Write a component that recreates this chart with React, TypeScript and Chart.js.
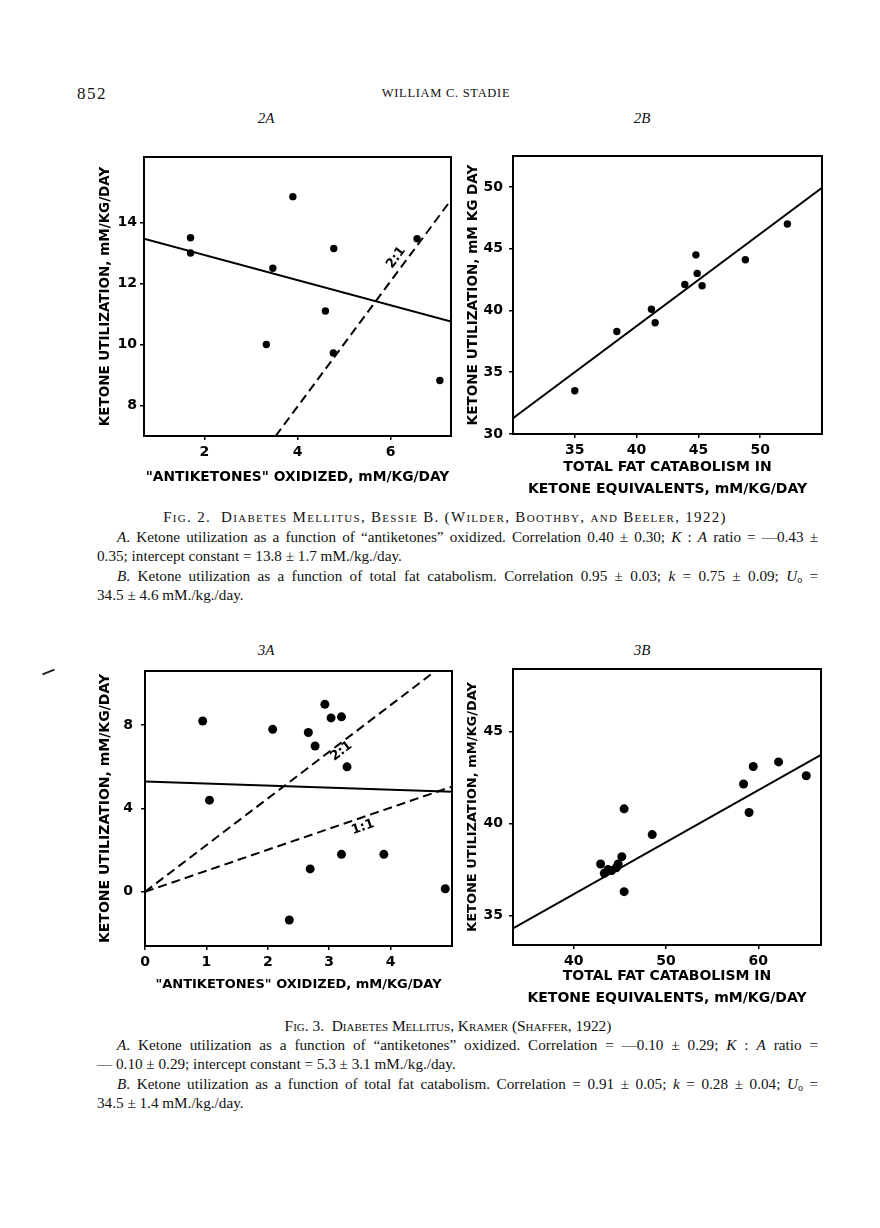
import React, { useEffect, useRef } from "react";
import { Chart, registerables } from "chart.js";

Chart.register(...registerables);

// ---------- Fig. 2A : Bessie B. ----------
const fig2aAntiketones = [1.7, 1.7, 3.9, 3.47, 4.78, 4.6, 3.33, 4.77, 6.57, 7.06];
const fig2aUtilization = [13.5, 13.0, 14.85, 12.5, 13.15, 11.1, 10.0, 9.72, 13.47, 8.82];
const fig2aFitX = [0.7, 7.3];
const fig2aFitY = [13.47, 10.75];
const fig2aRatio21X = [3.53, 7.3];
const fig2aRatio21Y = [7.0, 14.74];
const fig2aXTicks = [2, 4, 6];
const fig2aYTicks = [8, 10, 12, 14];

// ---------- Fig. 2B : Bessie B. ----------
const fig2bFatCatabolism = [35.0, 38.4, 41.2, 41.5, 43.9, 44.8, 44.9, 45.3, 48.8, 52.2];
const fig2bUtilization = [33.5, 38.3, 40.1, 39.0, 42.1, 44.5, 43.0, 42.0, 44.1, 47.0];
const fig2bFitX = [30, 55];
const fig2bFitY = [31.27, 49.92];
const fig2bXTicks = [35, 40, 45, 50];
const fig2bYTicks = [30, 35, 40, 45, 50];

// ---------- Fig. 3A : Kramer ----------
const fig3aAntiketones = [0.94, 1.05, 2.08, 2.66, 2.77, 2.93, 3.03, 3.2, 3.29, 3.2, 3.89, 2.69, 2.35, 4.89];
const fig3aUtilization = [8.2, 4.4, 7.8, 7.65, 7.0, 9.0, 8.35, 8.4, 6.0, 1.8, 1.8, 1.1, -1.35, 0.15];
const fig3aFitX = [0, 5];
const fig3aFitY = [5.3, 4.8];
const fig3aRatio21X = [0, 4.73];
const fig3aRatio21Y = [0, 10.6];
const fig3aRatio11X = [0, 5];
const fig3aRatio11Y = [0, 5.05];
const fig3aXTicks = [0, 1, 2, 3, 4];
const fig3aYTicks = [0, 4, 8];

// ---------- Fig. 3B : Kramer ----------
const fig3bFatCatabolism = [42.9, 43.3, 43.7, 44.1, 44.6, 44.8, 45.2, 45.45, 45.45, 48.5, 58.4, 59.0, 59.45, 62.2, 65.2];
const fig3bUtilization = [37.8, 37.3, 37.5, 37.45, 37.6, 37.8, 38.2, 40.8, 36.3, 39.4, 42.15, 40.6, 43.1, 43.35, 42.6];
const fig3bFitX = [33.4, 66.8];
const fig3bFitY = [34.3, 43.73];
const fig3bXTicks = [40, 50, 60];
const fig3bYTicks = [35, 40, 45];

const SANS = '"DejaVu Sans", "Liberation Sans", sans-serif';
const SERIF = '"Liberation Serif", "DejaVu Serif", serif';

type LineSpec = { xs: number[]; ys: number[]; dashed: boolean };
type LabelSpec = { x: number; y: number; text: string; line: number };

type PanelProps = {
  left: number;
  top: number;
  width: number;
  height: number;
  padTop: number;
  padRight: number;
  yAxisWidth: number;
  xAxisHeight: number;
  xMin: number;
  xMax: number;
  yMin: number;
  yMax: number;
  xTicks: number[];
  yTicks: number[];
  xs: number[];
  ys: number[];
  radius: number;
  lines: LineSpec[];
  labels: LabelSpec[];
  xTitle: string | string[];
  yTitle: string;
  xTitleSize: number;
  yTitleSize: number;
  xTitleLineHeight: number;
  xTitlePad: number;
  yTitlePad: number;
  xTickPad: number;
  yTickPad: number;
};

function Panel(p: PanelProps) {
  const ref = useRef<HTMLCanvasElement | null>(null);
  useEffect(() => {
    if (!ref.current) return;
    const framePlugin = {
      id: "frame",
      afterDraw(chart: any) {
        const { ctx, chartArea } = chart;
        ctx.save();
        ctx.strokeStyle = "#000";
        ctx.lineWidth = 2;
        ctx.strokeRect(chartArea.left, chartArea.top, chartArea.right - chartArea.left, chartArea.bottom - chartArea.top);
        ctx.restore();
      },
    };
    const labelPlugin = {
      id: "ratioLabels",
      afterDatasetsDraw(chart: any) {
        const { ctx } = chart;
        const sx = chart.scales.x;
        const sy = chart.scales.y;
        p.labels.forEach((l) => {
          const ln = p.lines[l.line];
          const x1 = sx.getPixelForValue(ln.xs[0]);
          const y1 = sy.getPixelForValue(ln.ys[0]);
          const x2 = sx.getPixelForValue(ln.xs[1]);
          const y2 = sy.getPixelForValue(ln.ys[1]);
          const ang = Math.atan2(y2 - y1, x2 - x1);
          ctx.save();
          ctx.translate(sx.getPixelForValue(l.x), sy.getPixelForValue(l.y));
          ctx.rotate(ang);
          ctx.font = `bold 13px ${SANS}`;
          ctx.fillStyle = "#000";
          ctx.textAlign = "center";
          ctx.textBaseline = "middle";
          ctx.fillText(l.text, 0, 0);
          ctx.restore();
        });
      },
    };
    const tickFont = { family: SANS, size: 14, weight: "bold" as const };
    const chart = new Chart(ref.current, {
      type: "scatter",
      data: {
        datasets: [
          ...p.lines.map((l) => ({
            type: "line" as const,
            data: l.xs.map((x, i) => ({ x, y: l.ys[i] })),
            borderColor: "#000",
            borderWidth: l.dashed ? 2 : 2,
            borderDash: l.dashed ? [9, 5] : [],
            pointRadius: 0,
            fill: false,
            tension: 0,
          })),
          {
            type: "scatter" as const,
            data: p.xs.map((x, i) => ({ x, y: p.ys[i] })),
            backgroundColor: "#000",
            borderColor: "#000",
            borderWidth: 0,
            pointRadius: p.radius,
            pointHoverRadius: p.radius,
          },
        ],
      } as any,
      options: {
        animation: false,
        responsive: false,
        maintainAspectRatio: false,
        events: [],
        layout: { padding: { top: p.padTop, right: p.padRight, left: 0, bottom: 0 }, autoPadding: false } as any,
        plugins: { legend: { display: false }, tooltip: { enabled: false } },
        scales: {
          x: {
            type: "linear",
            position: "bottom",
            min: p.xMin,
            max: p.xMax,
            afterFit: (s: any) => {
              s.height = p.xAxisHeight;
              s.paddingLeft = 0;
              s.paddingRight = 0;
              s.paddingTop = 0;
              s.paddingBottom = 0;
            },
            afterBuildTicks: (s: any) => {
              s.ticks = p.xTicks.map((v) => ({ value: v }));
            },
            ticks: { font: tickFont, color: "#000", padding: p.xTickPad, maxRotation: 0, autoSkip: false, callback: (v: any) => String(v) },
            grid: { drawOnChartArea: false, drawTicks: true, tickLength: 4, color: "#000", lineWidth: 1.5 },
            border: { display: true, color: "#000", width: 2 },
            title: {
              display: true,
              text: p.xTitle,
              color: "#000",
              font: { family: SANS, size: p.xTitleSize, weight: "bold", lineHeight: `${p.xTitleLineHeight}px` },
              padding: { top: 0, bottom: p.xTitlePad },
            },
          },
          y: {
            type: "linear",
            position: "left",
            min: p.yMin,
            max: p.yMax,
            afterFit: (s: any) => {
              s.width = p.yAxisWidth;
              s.paddingLeft = 0;
              s.paddingRight = 0;
              s.paddingTop = 0;
              s.paddingBottom = 0;
            },
            afterBuildTicks: (s: any) => {
              s.ticks = p.yTicks.map((v) => ({ value: v }));
            },
            ticks: { font: tickFont, color: "#000", padding: p.yTickPad, autoSkip: false, callback: (v: any) => String(v) },
            grid: { drawOnChartArea: false, drawTicks: true, tickLength: 4, color: "#000", lineWidth: 1.5 },
            border: { display: true, color: "#000", width: 2 },
            title: {
              display: true,
              text: p.yTitle,
              color: "#000",
              font: { family: SANS, size: p.yTitleSize, weight: "bold" },
              padding: { top: p.yTitlePad, bottom: 0 },
            },
          },
        },
      } as any,
      plugins: [framePlugin, labelPlugin],
    });
    return () => chart.destroy();
  }, []);
  return (
    <canvas
      ref={ref}
      width={p.width}
      height={p.height}
      style={{ position: "absolute", left: p.left, top: p.top, width: p.width, height: p.height }}
    />
  );
}

function Txt(props: { x: number; y: number; w?: number; size: number; style?: React.CSSProperties; children: React.ReactNode; center?: boolean }) {
  const lh = Math.round(props.size * 1.35);
  return (
    <div
      style={{
        position: "absolute",
        left: props.center ? props.x - (props.w || 600) / 2 : props.x,
        top: props.y - lh / 2,
        width: props.w || 600,
        lineHeight: `${lh}px`,
        height: lh,
        fontSize: props.size,
        fontFamily: SERIF,
        color: "#111",
        textAlign: props.center ? "center" : "left",
        whiteSpace: "nowrap",
        ...props.style,
      }}
    >
      {props.children}
    </div>
  );
}

function JLine(props: { y: number; indent?: boolean; full?: boolean; children: React.ReactNode }) {
  const left = props.indent ? 117 : 97;
  return (
    <div
      style={{
        position: "absolute",
        left,
        top: props.y - 10,
        width: 818 - left,
        height: 20,
        lineHeight: "20px",
        fontSize: 15.2,
        fontFamily: SERIF,
        color: "#111",
        textAlign: props.full ? "justify" : "left",
        textAlignLast: props.full ? "justify" : "left",
        overflow: "visible",
      }}
    >
      {props.children}
    </div>
  );
}

const Sub = (p: { children: React.ReactNode }) => (
  <span style={{ fontSize: "0.65em", position: "relative", top: "0.25em" }}>{p.children}</span>
);

export default function App() {
  const xTitleA = '"ANTIKETONES" OXIDIZED, mM/KG/DAY';
  const xTitleB = ["TOTAL FAT CATABOLISM IN", "KETONE EQUIVALENTS, mM/KG/DAY"];
  return (
    <div style={{ position: "absolute", left: 0, top: 0, width: 880, height: 1228, background: "#fff", overflow: "hidden" }}>
      <Txt x={77} y={93} size={17} w={60} style={{ letterSpacing: "1.5px" }}>852</Txt>
      <Txt x={446} y={93} size={12.5} w={300} center style={{ letterSpacing: "0.7px" }}>WILLIAM C. STADIE</Txt>
      <Txt x={266} y={118} size={15} w={60} center style={{ fontStyle: "italic" }}>2A</Txt>
      <Txt x={642} y={118} size={15} w={60} center style={{ fontStyle: "italic" }}>2B</Txt>

      <div style={{ position: "absolute", left: 42, top: 671, width: 13, height: 2, background: "#222", transform: "rotate(-22deg)" }} />

      <Panel
        left={88} top={148} width={372} height={350} padTop={9} padRight={9} yAxisWidth={56} xAxisHeight={62}
        xMin={0.7} xMax={7.3} yMin={7.0} yMax={16.15} xTicks={fig2aXTicks} yTicks={fig2aYTicks}
        xs={fig2aAntiketones} ys={fig2aUtilization} radius={3.7}
        lines={[
          { xs: fig2aFitX, ys: fig2aFitY, dashed: false },
          { xs: fig2aRatio21X, ys: fig2aRatio21Y, dashed: true },
        ]}
        labels={[{ x: 6.12, y: 12.85, text: "2:1", line: 1 }]}
        xTitle={xTitleA} yTitle="KETONE UTILIZATION, mM/KG/DAY"
        xTitleSize={13.8} yTitleSize={13.5} xTitleLineHeight={16} xTitlePad={13} yTitlePad={9}
        xTickPad={4} yTickPad={3}
      />
      <Panel
        left={458} top={148} width={372} height={352} padTop={8} padRight={8} yAxisWidth={55} xAxisHeight={66}
        xMin={30} xMax={55} yMin={30} yMax={52.5} xTicks={fig2bXTicks} yTicks={fig2bYTicks}
        xs={fig2bFatCatabolism} ys={fig2bUtilization} radius={3.7}
        lines={[{ xs: fig2bFitX, ys: fig2bFitY, dashed: false }]}
        labels={[]}
        xTitle={xTitleB} yTitle="KETONE UTILIZATION, mM KG DAY"
        xTitleSize={14} yTitleSize={13.6} xTitleLineHeight={22} xTitlePad={0} yTitlePad={7}
        xTickPad={4} yTickPad={6}
      />

      <Txt x={445} y={517} size={15} w={780} center style={{ fontVariant: "small-caps", letterSpacing: "1.3px" }}>
        Fig. 2.&nbsp; Diabetes Mellitus, Bessie B. (Wilder, Boothby, and Beeler, 1922)
      </Txt>
      <JLine y={537} indent full>
        <i>A</i>. Ketone utilization as a function of “antiketones” oxidized. Correlation 0.40 ± 0.30; <i>K</i> : <i>A</i> ratio = —0.43 ±
      </JLine>
      <JLine y={556}>0.35; intercept constant = 13.8 ± 1.7 mM./kg./day.</JLine>
      <JLine y={576} indent full>
        <i>B</i>. Ketone utilization as a function of total fat catabolism. Correlation 0.95 ± 0.03; <i>k</i> = 0.75 ± 0.09; <i>U</i><Sub>o</Sub> =
      </JLine>
      <JLine y={595}>34.5 ± 4.6 mM./kg./day.</JLine>

      <Txt x={266} y={650} size={15} w={60} center style={{ fontStyle: "italic" }}>3A</Txt>
      <Txt x={642} y={650} size={15} w={60} center style={{ fontStyle: "italic" }}>3B</Txt>

      <Panel
        left={88} top={662} width={372} height={340} padTop={9} padRight={8} yAxisWidth={57} xAxisHeight={56}
        xMin={0} xMax={5} yMin={-2.6} yMax={10.6} xTicks={fig3aXTicks} yTicks={fig3aYTicks}
        xs={fig3aAntiketones} ys={fig3aUtilization} radius={4.5}
        lines={[
          { xs: fig3aFitX, ys: fig3aFitY, dashed: false },
          { xs: fig3aRatio21X, ys: fig3aRatio21Y, dashed: true },
          { xs: fig3aRatio11X, ys: fig3aRatio11Y, dashed: true },
        ]}
        labels={[
          { x: 3.2, y: 6.75, text: "2:1", line: 1 },
          { x: 3.55, y: 3.1, text: "1:1", line: 2 },
        ]}
        xTitle={xTitleA} yTitle="KETONE UTILIZATION, mM/KG/DAY"
        xTitleSize={13} yTitleSize={14} xTitleLineHeight={16} xTitlePad={9} yTitlePad={9}
        xTickPad={4} yTickPad={8}
      />
      <Panel
        left={458} top={660} width={372} height={350} padTop={9} padRight={9} yAxisWidth={55} xAxisHeight={65}
        xMin={33.4} xMax={66.8} yMin={33.4} yMax={48.4} xTicks={fig3bXTicks} yTicks={fig3bYTicks}
        xs={fig3bFatCatabolism} ys={fig3bUtilization} radius={4.5}
        lines={[{ xs: fig3bFitX, ys: fig3bFitY, dashed: false }]}
        labels={[]}
        xTitle={xTitleB} yTitle="KETONE UTILIZATION, mM/KG/DAY"
        xTitleSize={14} yTitleSize={13} xTitleLineHeight={22} xTitlePad={1} yTitlePad={7}
        xTickPad={4} yTickPad={6}
      />

      <Txt x={448} y={1025} size={15.4} w={760} center style={{ fontVariant: "small-caps" }}>
        Fig. 3.&nbsp; Diabetes Mellitus, Kramer (Shaffer, 1922)
      </Txt>
      <JLine y={1045} indent full>
        <i>A</i>. Ketone utilization as a function of “antiketones” oxidized. Correlation = —0.10 ± 0.29; <i>K</i> : <i>A</i> ratio =
      </JLine>
      <JLine y={1064}>— 0.10 ± 0.29; intercept constant = 5.3 ± 3.1 mM./kg./day.</JLine>
      <JLine y={1084} indent full>
        <i>B</i>. Ketone utilization as a function of total fat catabolism. Correlation = 0.91 ± 0.05; <i>k</i> = 0.28 ± 0.04; <i>U</i><Sub>o</Sub> =
      </JLine>
      <JLine y={1103}>34.5 ± 1.4 mM./kg./day.</JLine>
    </div>
  );
}
